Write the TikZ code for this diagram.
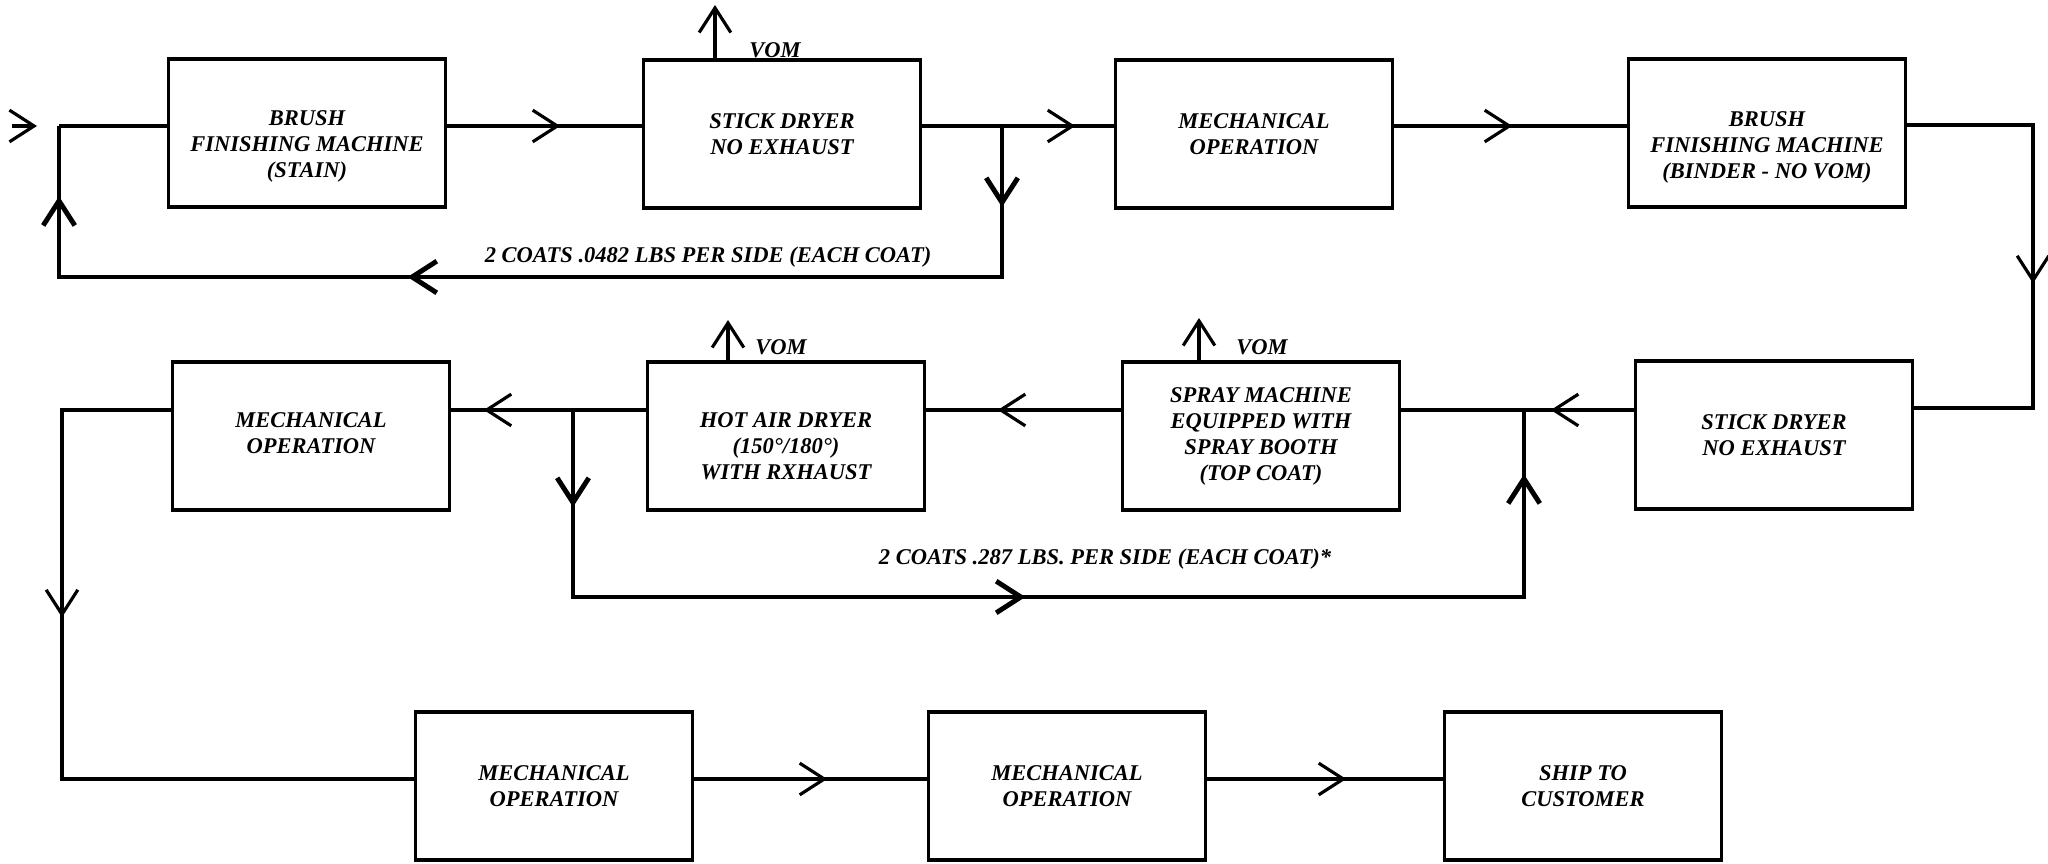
\documentclass[tikz,border=0pt]{standalone}
\usepackage{fontspec}
\setmainfont{Liberation Serif}
\usetikzlibrary{arrows.meta,decorations.markings}
\tikzset{
  chevtip/.tip={Straight Barb[length=7pt,width=9pt]},
  box/.style={draw, line width=0.9pt, minimum width=2.77cm, minimum height=1.48cm, inner sep=0pt},
  lbl/.style={align=center, font=\fontsize{6.4pt}{7.4pt}\selectfont\bfseries\itshape, inner sep=0pt},
  flow/.style={line width=0.9pt},
  loopline/.style={line width=1.4pt},
  chev at/.style={postaction={decorate,decoration={markings,mark=at position #1 with {\arrow{chevtip}}}}},
  vent/.style={line width=0.9pt,-{chevtip}},
}
\begin{document}
\begin{tikzpicture}[x=0.01cm,y=-0.01cm]
\useasboundingbox (0,0) rectangle (2048,864);
% row levels
\coordinate (r1) at (0,126);
\coordinate (r2) at (0,410);
\coordinate (r3) at (0,779);
% boxes
\node[box] (b1) at (307,133) {};
\node[box] (b2) at (782,134) {};
\node[box] (b3) at (1254,134) {};
\node[box] (b4) at (1767,133) {};
\node[box] (b5) at (1774,435) {};
\node[box] (b6) at (1261,436) {};
\node[box] (b7) at (786,436) {};
\node[box] (b8) at (311,436) {};
\node[box] (b9) at (554,786) {};
\node[box] (b10) at (1067,786) {};
\node[box] (b11) at (1583,786) {};
% box texts
\node[lbl] at ([yshift=-0.13cm]b1.center) {BRUSH\\FINISHING MACHINE\\(STAIN)};
\node[lbl] at (b2.center) {STICK DRYER\\NO EXHAUST};
\node[lbl] at (b3.center) {MECHANICAL\\OPERATION};
\node[lbl] at ([yshift=-0.14cm]b4.center) {BRUSH\\FINISHING MACHINE\\(BINDER - NO VOM)};
\node[lbl] at (b5.center) {STICK DRYER\\NO EXHAUST};
\node[lbl] at (b6.center) {SPRAY MACHINE\\EQUIPPED WITH\\SPRAY BOOTH\\(TOP COAT)};
\node[lbl] at ([yshift=-0.10cm]b7.center) {HOT AIR DRYER\\(150°/180°)\\WITH RXHAUST};
\node[lbl] at ([yshift=0.03cm]b8.center) {MECHANICAL\\OPERATION};
\node[lbl] at (b9.center) {MECHANICAL\\OPERATION};
\node[lbl] at (b10.center) {MECHANICAL\\OPERATION};
\node[lbl] at (b11.center) {SHIP TO\\CUSTOMER};
% entry
\coordinate (in) at (12,126);
\coordinate (inend) at (37,126);
\draw[flow,-{chevtip}] (in) -- (inend);
% row 1
\coordinate (c5) at (59,126);
\draw[flow] (c5) -- (b1.west |- r1);
\draw[flow, chev at=1.13cm] (b1.east |- r1) -- (b2.west |- r1);
\draw[flow, chev at=1.53cm] (b2.east |- r1) -- (b3.west |- r1);
\draw[flow, chev at=1.18cm] (b3.east |- r1) -- (b4.west |- r1);
\coordinate (c1) at (2033,125);
\coordinate (c2) at (2033,408);
\draw[flow, chev at=2.84cm] (b4.east |- c1) -- (c1) -- (c2) -- (b5.east |- c2);
% loop 1
\coordinate (j1) at (1002,126);
\coordinate (c3) at (1002,277);
\coordinate (c4) at (59,277);
\draw[loopline, chev at=0.81cm, chev at=7.45cm, chev at=11.74cm] (j1) -- (c3) -- (c4) -- (c5);
% row 2
\draw[flow, chev at=0.83cm] (b5.west |- r2) -- (b6.east |- r2);
\draw[flow, chev at=1.23cm] (b6.west |- r2) -- (b7.east |- r2);
\draw[flow, chev at=1.62cm] (b7.west |- r2) -- (b8.east |- r2);
\coordinate (c6) at (62,410);
\coordinate (c7) at (62,779);
\draw[flow, chev at=3.16cm] (b8.west |- r2) -- (c6) -- (c7) -- (b9.west |- c7);
% loop 2
\coordinate (j3) at (573,410);
\coordinate (c8) at (573,597);
\coordinate (c9) at (1524,597);
\coordinate (j2) at (1524,410);
\draw[loopline, chev at=0.97cm, chev at=6.39cm, chev at=12.60cm] (j3) -- (c8) -- (c9) -- (j2);
% row 3
\draw[flow, chev at=1.33cm] (b9.east |- r3) -- (b10.west |- r3);
\draw[flow, chev at=1.39cm] (b10.east |- r3) -- (b11.west |- r3);
% VOM vents
\coordinate (v1) at (715,5);
\draw[vent] (b2.north -| v1) -- (v1);
\node[lbl] at (775,50) {VOM};
\coordinate (v2) at (728,320);
\draw[vent] (b7.north -| v2) -- (v2);
\node[lbl] at (781,347) {VOM};
\coordinate (v3) at (1199,318);
\draw[vent] (b6.north -| v3) -- (v3);
\node[lbl] at (1262,347) {VOM};
% loop labels
\node[lbl] at (708,257) {2 COATS .0482 LBS PER SIDE (EACH COAT)};
\node[lbl] at (1105,559) {2 COATS .287 LBS. PER SIDE (EACH COAT)*};
\end{tikzpicture}
\end{document}
